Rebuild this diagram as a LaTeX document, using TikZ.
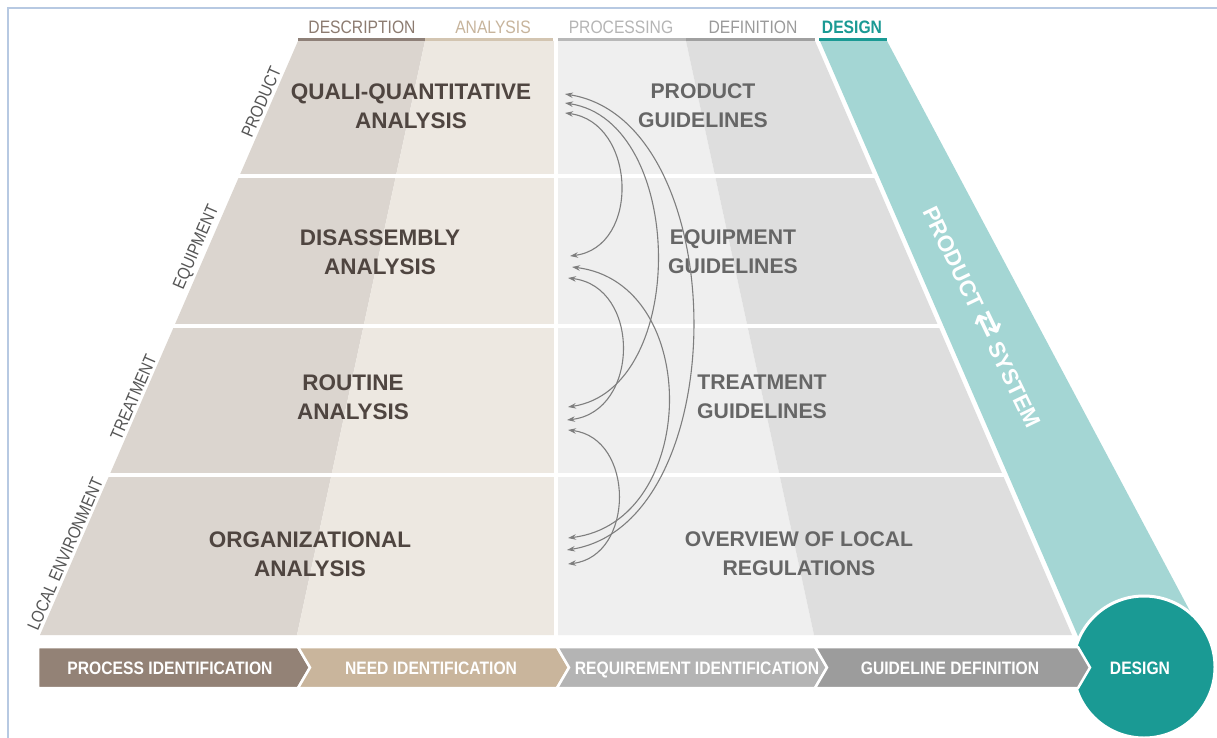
\documentclass[tikz,border=0pt]{standalone}
\usepackage{fontspec}
\setmainfont{Liberation Sans}
\newfontfamily\condf{Liberation Sans}[FakeStretch=0.87]
\newfontfamily\sidef{Liberation Sans}[FakeStretch=0.86]
\newfontfamily\symf{DejaVu Sans}
\usetikzlibrary{arrows.meta}
\definecolor{descC}{HTML}{DBD5CF}
\definecolor{analC}{HTML}{EDE8E1}
\definecolor{procC}{HTML}{EFEFEF}
\definecolor{defiC}{HTML}{DEDEDE}
\definecolor{tealL}{HTML}{A4D6D4}
\definecolor{tealD}{HTML}{1A9A94}
\definecolor{lblL}{HTML}{4F4540}
\definecolor{lblR}{HTML}{666666}
\definecolor{arrC}{HTML}{7E7E7E}
\definecolor{frameC}{HTML}{B7C9E2}
\definecolor{descT}{HTML}{8C7B70}
\definecolor{analT}{HTML}{C7B49C}
\definecolor{procT}{HTML}{B5B5B5}
\definecolor{defiT}{HTML}{9A9A9A}
\definecolor{descB}{HTML}{8E8078}
\definecolor{analB}{HTML}{D3C5B1}
\definecolor{procB}{HTML}{B8B8B8}
\definecolor{defiB}{HTML}{A0A0A0}
\definecolor{chA}{HTML}{938276}
\definecolor{chB}{HTML}{C9B59C}
\definecolor{chC}{HTML}{B4B4B4}
\definecolor{chD}{HTML}{9C9C9C}
\definecolor{sideC}{HTML}{555555}
\tikzset{
  rowlblL/.style={align=center, inner sep=0pt, text=lblL, font=\fontsize{22.5}{29}\selectfont\bfseries},
  rowlblR/.style={align=center, inner sep=0pt, text=lblR, font=\fontsize{21.2}{29}\selectfont\bfseries},
  toplbl/.style={inner sep=0pt, anchor=base, font=\condf\fontsize{18}{20}\selectfont},
  chevlbl/.style={inner sep=0pt, anchor=base, text=white, font=\condf\fontsize{18}{20}\selectfont\bfseries},
  sidelbl/.style={inner sep=1pt, anchor=south, rotate=66.5, text=sideC, font=\sidef\fontsize{17.5}{19}\selectfont},
  chev/.style={draw=white, line width=2.5pt, line join=miter},
  linkarr/.style={draw=arrC, line width=1.1pt, {Stealth[length=8pt,width=5.5pt]}-{Stealth[length=8pt,width=5.5pt]}},
  sep/.style={draw=white, line width=4pt},
  topbar/.style={line width=3pt}
}
\begin{document}
\begin{tikzpicture}[x=1pt,y=-1pt]
\useasboundingbox (0,0) rectangle (1217,738);
\fill[white] (0,0) rectangle (1217,738);
% frame
\draw[frameC, line width=1.5pt] (8,738) -- (8,8) -- (1217,8);

% pyramid columns
\fill[descC] (298,41) -- (425,41) -- (297,635) -- (40,635) -- cycle;
\fill[analC] (425,41) -- (556,41) -- (556,635) -- (297,635) -- cycle;
\fill[procC] (556,41) -- (686,41) -- (814,635) -- (556,635) -- cycle;
\fill[defiC] (686,41) -- (815,41) -- (1072,635) -- (814,635) -- cycle;
% teal band
\fill[tealL] (820,41) -- (887,41) -- (1200,630) -- (1084,650) -- cycle;
% separators
\draw[sep] (555.5,38) -- (555.5,637);
\draw[sep] (30,176.5) -- (875,176.5);
\draw[sep] (30,325.5) -- (940,325.5);
\draw[sep] (30,474.5) -- (1004,474.5);

% top bars
\draw[topbar, descB] (298,39.5) -- (425,39.5);
\draw[topbar, analB] (425,39.5) -- (553,39.5);
\draw[topbar, procB] (558,39.5) -- (686,39.5);
\draw[topbar, defiB] (686,39.5) -- (815,39.5);
\draw[topbar, tealD] (819,39.5) -- (887,39.5);

% top labels
\node[toplbl, text=descT] (tdesc) at (362,33.5) {DESCRIPTION};
\node[toplbl, text=analT] (tanal) at (493,33.5) {ANALYSIS};
\node[toplbl, text=procT] (tproc) at (621,33.5) {PROCESSING};
\node[toplbl, text=defiT] (tdefi) at (753,33.5) {DEFINITION};
\node[toplbl, text=tealD, font=\condf\fontsize{18}{20}\selectfont\bfseries] (tdesign) at (852,33.5) {DESIGN};

% side labels
\node[sidelbl] (sprod) at (268,105) {PRODUCT};
\node[sidelbl] (sequip) at (205,251) {EQUIPMENT};
\node[sidelbl] (streat) at (140,400) {TREATMENT};
\node[sidelbl] (slocal) at (72,557) {LOCAL ENVIRONMENT};

% row labels
\node[rowlblL] (q1) at (411,106) {QUALI-QUANTITATIVE\\ANALYSIS};
\node[rowlblL] (q2) at (380,252) {DISASSEMBLY\\ANALYSIS};
\node[rowlblL] (q3) at (353,397) {ROUTINE\\ANALYSIS};
\node[rowlblL] (q4) at (310,554) {ORGANIZATIONAL\\ANALYSIS};
\node[rowlblR] (g1) at (703,106) {PRODUCT\\GUIDELINES};
\node[rowlblR] (g2) at (733,252) {EQUIPMENT\\GUIDELINES};
\node[rowlblR] (g3) at (762,397) {TREATMENT\\GUIDELINES};
\node[rowlblR] (g4) at (799,554) {OVERVIEW OF LOCAL\\REGULATIONS};

% band text
\node[rotate=-64.3, text=white, inner sep=0pt, font=\fontsize{22.5}{26}\selectfont\bfseries] (ps) at (984,316)
  {PRODUCT\hspace{6pt}{\symf\bfseries\fontsize{32}{34}\selectfont ⇄}\hspace{6pt}SYSTEM};

% arrow endpoints
\coordinate (r1a) at (565,94);  \coordinate (r1b) at (565,103); \coordinate (r1c) at (565,113);
\coordinate (r2a) at (570,256); \coordinate (r2b) at (572,267); \coordinate (r2c) at (568,278);
\coordinate (r3a) at (568,407); \coordinate (r3b) at (567,420); \coordinate (r3c) at (568,430);
\coordinate (r4a) at (568,538); \coordinate (r4b) at (567,550); \coordinate (r4c) at (568,564);
\draw[linkarr] (r1c) .. controls (636,122) and (641,247) .. (r2a);
\draw[linkarr] (r1b) .. controls (686,121) and (689,389) .. (r3a);
\draw[linkarr] (r1a) .. controls (734,121) and (736,523) .. (r4b);
\draw[linkarr] (r2c) .. controls (641,286.5) and (640,411.5) .. (r3b);
\draw[linkarr] (r2b) .. controls (703,283) and (699,522) .. (r4a);
\draw[linkarr] (r3c) .. controls (635,438) and (635,556) .. (r4c);

% design circle
\node[circle, fill=tealD, draw=white, line width=3pt, minimum size=142pt, inner sep=0pt] (design) at (1144,667) {};
% chevrons
\filldraw[chev, fill=chA] (38,647) -- (298,647) -- (310,667.5) -- (298,688) -- (38,688) -- cycle;
\filldraw[chev, fill=chB] (298,647) -- (557,647) -- (569,667.5) -- (557,688) -- (298,688) -- (310,667.5) -- cycle;
\filldraw[chev, fill=chC] (557,647) -- (815,647) -- (827,667.5) -- (815,688) -- (557,688) -- (569,667.5) -- cycle;
\filldraw[chev, fill=chD] (815,647) -- (1078,647) -- (1090,667.5) -- (1078,688) -- (815,688) -- (827,667.5) -- cycle;
\node[chevlbl] (c1) at (170,674.5) {PROCESS IDENTIFICATION};
\node[chevlbl] (c2) at (431,674.5) {NEED IDENTIFICATION};
\node[chevlbl] (c3) at (697,674.5) {REQUIREMENT IDENTIFICATION};
\node[chevlbl] (c4) at (950,674.5) {GUIDELINE DEFINITION};
\node[chevlbl] (c5) at (1140,674.5) {DESIGN};
\end{tikzpicture}
\end{document}
